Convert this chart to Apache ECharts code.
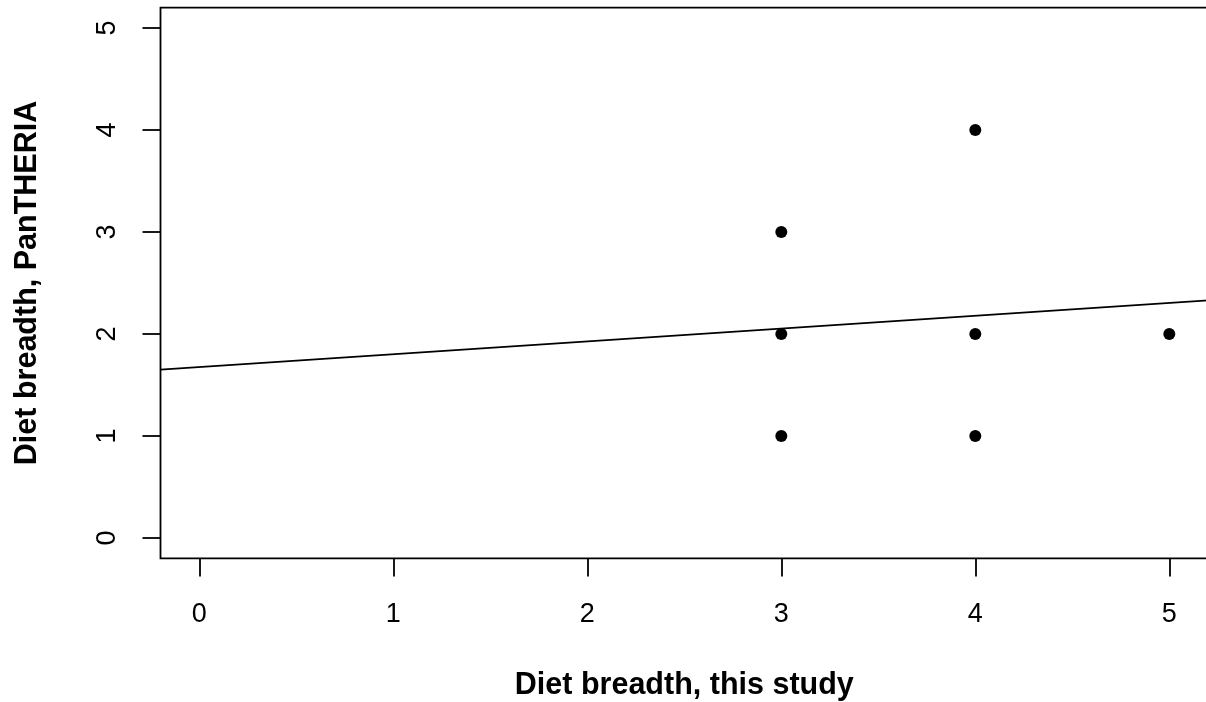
<!DOCTYPE html>
<html>
<head>
<meta charset="utf-8">
<script src="https://cdn.jsdelivr.net/npm/echarts@6/dist/echarts.min.js"></script>
<style>
  html, body { margin: 0; padding: 0; background: #fff; overflow: hidden; }
  #chart { width: 1212px; height: 702px; }
</style>
</head>
<body>
<div id="chart"></div>
<script>
// Diet breadth scored in this study vs. the PanTHERIA database
const studyBreadth = [3, 3, 3, 4, 4, 4, 5];
const pantheriaBreadth = [3, 2, 1, 4, 2, 1, 2];

// Fitted line, given by its two ends at the plot edges
const fitX = [-0.2, 5.2];
const fitY = [1.65, 2.33];

// Tick values for both axes
const xTicks = [0, 1, 2, 3, 4, 5];
const yTicks = [0, 1, 2, 3, 4, 5];

const xRange = [-0.2, 5.2];
const yRange = [-0.2, 5.2];

const points = studyBreadth.map((x, i) => [x, pantheriaBreadth[i]]);
const fitLine = fitX.map((x, i) => [x, fitY[i]]);

const font = 'Liberation Sans, Arial, Helvetica, sans-serif';

const chart = echarts.init(document.getElementById('chart'), null, { renderer: 'canvas' });
chart.setOption({
  animation: false,
  backgroundColor: '#fff',
  grid: {
    left: 160.5, top: 7.6, width: 1047.6, height: 550.8,
    containLabel: false,
    outerBoundsMode: 'none',
    show: true, borderColor: '#000', borderWidth: 1.8, backgroundColor: 'transparent'
  },
  xAxis: {
    type: 'value',
    min: xRange[0], max: xRange[1],
    splitLine: { show: false },
    axisLine: { show: false, onZero: false },
    axisTick: { show: true, inside: false, length: 18, customValues: xTicks,
                lineStyle: { color: '#000', width: 1.8 } },
    axisLabel: { show: true, customValues: xTicks, margin: 43,
                 color: '#000', fontSize: 27, fontFamily: font },
    name: 'Diet breadth, this study',
    nameLocation: 'middle',
    nameGap: 112,
    nameTextStyle: { color: '#000', fontSize: 30.5, fontWeight: 'bold', fontFamily: font }
  },
  yAxis: {
    type: 'value',
    min: yRange[0], max: yRange[1],
    splitLine: { show: false },
    axisLine: { show: false, onZero: false },
    axisTick: { show: true, inside: false, length: 18, customValues: yTicks,
                lineStyle: { color: '#000', width: 1.8 } },
    axisLabel: { show: true, customValues: yTicks, margin: 39, rotate: 90,
                 color: '#000', fontSize: 27, fontFamily: font },
    name: 'Diet breadth, PanTHERIA',
    nameLocation: 'middle',
    nameGap: 117,
    nameTextStyle: { color: '#000', fontSize: 30.5, fontWeight: 'bold', fontFamily: font }
  },
  series: [
    {
      type: 'line',
      data: fitLine,
      showSymbol: false,
      clip: true,
      lineStyle: { color: '#000', width: 1.7 },
      silent: true
    },
    {
      type: 'scatter',
      data: points,
      symbol: 'circle',
      symbolSize: 12,
      itemStyle: { color: '#000', opacity: 1 }
    }
  ]
});
</script>
</body>
</html>
